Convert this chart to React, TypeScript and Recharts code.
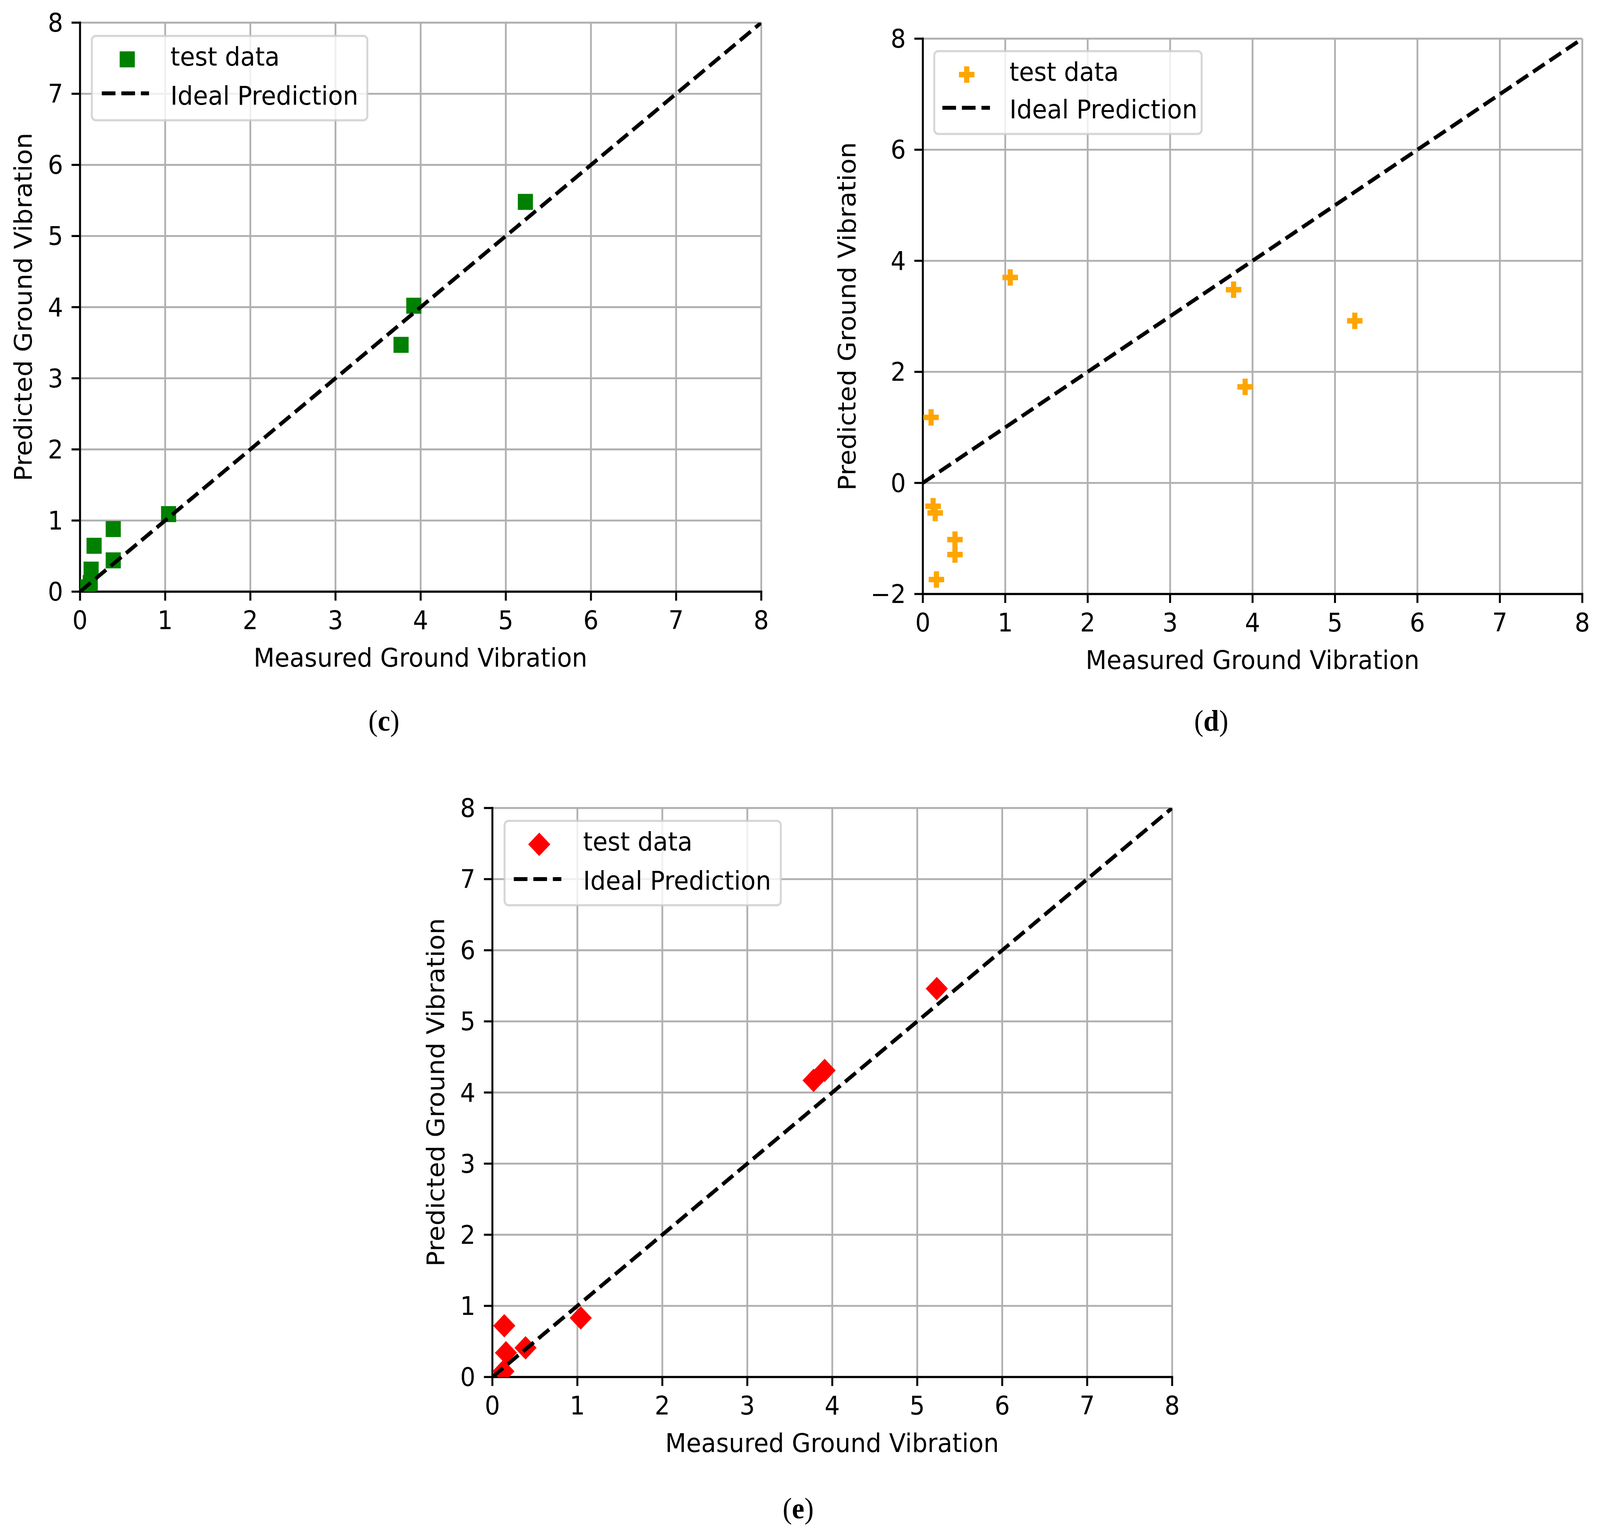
import { CartesianGrid, Scatter, ScatterChart, XAxis, YAxis } from "recharts";

// panel (c): green squares
const measuredC = [0.09, 0.12, 0.13, 0.165, 0.39, 0.39, 1.04, 3.77, 3.92, 5.23];
const predictedC = [0.06, 0.12, 0.31, 0.645, 0.44, 0.88, 1.09, 3.47, 4.02, 5.48];

// panel (d): orange filled plus
const measuredD = [0.1, 0.125, 0.15, 0.165, 0.39, 0.39, 1.06, 3.77, 3.91, 5.24];
const predictedD = [1.18, -0.42, -0.54, -1.74, -1.02, -1.29, 3.7, 3.48, 1.73, 2.92];

// panel (e): red diamonds
const measuredE = [0.13, 0.14, 0.16, 0.39, 1.04, 3.78, 3.91, 5.23];
const predictedE = [0.08, 0.72, 0.34, 0.41, 0.83, 4.17, 4.31, 5.46];

const idealEnds = [0, 8];
const xTicks = [0, 1, 2, 3, 4, 5, 6, 7, 8];
const yTicksC = [0, 1, 2, 3, 4, 5, 6, 7, 8];
const yTicksD = [-2, 0, 2, 4, 6, 8];

const xLabel = "Measured Ground Vibration";
const yLabel = "Predicted Ground Vibration";
const seriesLabel = "test data";
const idealLabel = "Ideal Prediction";

const FONT = "'DejaVu Sans', sans-serif";
const FS = 66;
const TICK_FS = 65;
const SPINE = 5.3;
const PAGE_W = 4338;
const PAGE_H = 3928;

const toPoints = (xs: number[], ys: number[]) => xs.map((x, i) => ({ x, y: ys[i] }));
const idealPoints = idealEnds.map((v) => ({ x: v, y: v }));
const fmt = (v: number) => (v < 0 ? `\u2212${-v}` : `${v}`);

const Square = ({ cx, cy }: any) => (
  <rect x={cx - 20.5} y={cy - 20.5} width={41} height={41} fill="#008000" />
);
const Plus = ({ cx, cy }: any) => {
  const a = 21;
  const b = 7;
  const pts = [
    [-b, -a], [b, -a], [b, -b], [a, -b], [a, b], [b, b],
    [b, a], [-b, a], [-b, b], [-a, b], [-a, -b], [-b, -b],
  ]
    .map(([px, py]) => `${cx + px},${cy + py}`)
    .join(" ");
  return <polygon points={pts} fill="#FFA500" />;
};
const Diamond = ({ cx, cy }: any) => {
  const r = 30;
  return (
    <polygon
      points={`${cx},${cy - r} ${cx + r},${cy} ${cx},${cy + r} ${cx - r},${cy}`}
      fill="#FF0000"
    />
  );
};
const Nothing = () => <g />;

type PanelProps = {
  left: number;
  top: number;
  width: number;
  height: number;
  margin: { top: number; right: number; bottom: number; left: number };
  yAxisWidth: number;
  xAxisHeight: number;
  yDomain: [number, number];
  yTicks: number[];
  data: { x: number; y: number }[];
  shape: any;
};

function Panel(p: PanelProps) {
  const tick = { fontSize: TICK_FS, fontFamily: FONT, fill: "#000" };
  const axisLine = { stroke: "#000", strokeWidth: SPINE, strokeLinecap: "square" as const };
  const tickLine = { stroke: "#000", strokeWidth: SPINE };
  return (
    <div style={{ position: "absolute", left: p.left, top: p.top }}>
      <ScatterChart width={p.width} height={p.height} margin={p.margin}>
        <CartesianGrid stroke="#b0b0b0" strokeWidth={4.8} />
        <XAxis
          type="number"
          dataKey="x"
          domain={[0, 8]}
          ticks={xTicks}
          interval={0}
          allowDataOverflow
          height={p.xAxisHeight}
          tick={tick}
          tickSize={23}
          tickMargin={27}
          tickLine={tickLine}
          axisLine={axisLine}
        />
        <YAxis
          type="number"
          dataKey="y"
          domain={p.yDomain}
          ticks={p.yTicks}
          interval={0}
          allowDataOverflow
          width={p.yAxisWidth}
          tick={tick}
          tickSize={23}
          tickMargin={23}
          tickFormatter={fmt}
          tickLine={tickLine}
          axisLine={axisLine}
        />
        <XAxis
          xAxisId="top"
          orientation="top"
          type="number"
          domain={[0, 8]}
          ticks={[]}
          tick={false}
          tickLine={false}
          height={0}
          axisLine={axisLine}
        />
        <YAxis
          yAxisId="right"
          orientation="right"
          type="number"
          domain={p.yDomain}
          ticks={[]}
          tick={false}
          tickLine={false}
          width={0}
          axisLine={axisLine}
        />
        <Scatter data={p.data} shape={p.shape} isAnimationActive={false} />
        <Scatter
          data={idealPoints}
          shape={Nothing}
          line={{ stroke: "#000", strokeWidth: 10, strokeDasharray: "37 16" }}
          isAnimationActive={false}
        />
      </ScatterChart>
    </div>
  );
}

type LegendProps = {
  x: number;
  y: number;
  w: number;
  h: number;
  markerX: number;
  line: [number, number];
  lineY: number;
  textX: number;
  base2: number;
  marker: (p: { cx: number; cy: number }) => any;
};

function LegendBox(l: LegendProps) {
  const M = l.marker;
  return (
    <g>
      <rect
        x={l.x}
        y={l.y}
        width={l.w}
        height={l.h}
        rx={11}
        fill="#fff"
        fillOpacity={0.8}
        stroke="#cccccc"
        strokeOpacity={0.8}
        strokeWidth={5.3}
      />
      <M cx={l.x + l.markerX} cy={l.y + 60} />
      <line
        x1={l.x + l.line[0]}
        x2={l.x + l.line[1]}
        y1={l.y + l.lineY}
        y2={l.y + l.lineY}
        stroke="#000"
        strokeWidth={10}
        strokeDasharray="37 16"
      />
      <text x={l.x + l.textX} y={l.y + 76} fontSize={FS} fontFamily={FONT} fill="#000">
        {seriesLabel}
      </text>
      <text x={l.x + l.textX} y={l.y + l.base2} fontSize={FS} fontFamily={FONT} fill="#000">
        {idealLabel}
      </text>
    </g>
  );
}

function Caption({ x, y, letter }: { x: number; y: number; letter: string }) {
  return (
    <text x={x} y={y} textAnchor="middle" fontSize={76} fontFamily="'Liberation Serif', serif" fill="#000">
      <tspan>(</tspan>
      <tspan fontWeight="bold">{letter}</tspan>
      <tspan>)</tspan>
    </text>
  );
}

function AxisLabels({ xx, xy, yx, yy }: { xx: number; xy: number; yx: number; yy: number }) {
  return (
    <g fontSize={FS} fontFamily={FONT} fill="#000">
      <text x={xx} y={xy} textAnchor="middle">
        {xLabel}
      </text>
      <text transform={`translate(${yx},${yy}) rotate(-90)`} textAnchor="middle">
        {yLabel}
      </text>
    </g>
  );
}

export default function App() {
  // the window may be narrower than the figure (browser caps the width), so squeeze to fit
  const vw = typeof window !== "undefined" ? window.innerWidth : PAGE_W;
  const sx = Math.min(1, vw / PAGE_W);
  return (
    <div
      style={{
        position: "absolute",
        left: 0,
        top: 0,
        width: PAGE_W,
        height: PAGE_H,
        background: "#fff",
        overflow: "hidden",
        transform: `scale(${sx}, 1)`,
        transformOrigin: "0 0",
      }}
    >
      <Panel
        left={0}
        top={0}
        width={2120}
        height={1640}
        margin={{ top: 58, right: 56, bottom: 0, left: 0 }}
        yAxisWidth={217}
        xAxisHeight={125}
        yDomain={[0, 8]}
        yTicks={yTicksC}
        data={toPoints(measuredC, predictedC)}
        shape={Square}
      />
      <Panel
        left={2169}
        top={0}
        width={2169}
        height={1640}
        margin={{ top: 99, right: 48, bottom: 0, left: 0 }}
        yAxisWidth={333}
        xAxisHeight={119}
        yDomain={[-2, 8]}
        yTicks={yTicksD}
        data={toPoints(measuredD, predictedD)}
        shape={Plus}
      />
      <Panel
        left={1000}
        top={1990}
        width={2300}
        height={1700}
        margin={{ top: 79, right: 122, bottom: 0, left: 0 }}
        yAxisWidth={335}
        xAxisHeight={164}
        yDomain={[0, 8]}
        yTicks={yTicksC}
        data={toPoints(measuredE, predictedE)}
        shape={Diamond}
      />
      <svg
        width={PAGE_W}
        height={PAGE_H}
        style={{ position: "absolute", left: 0, top: 0, pointerEvents: "none" }}
      >
        <AxisLabels xx={1140} xy={1707} yx={86} yy={786} />
        <AxisLabels xx={3396} xy={1713} yx={2319} yy={810} />
        <AxisLabels xx={2256} xy={3718} yx={1204} yy={2797} />
        <LegendBox x={249} y={92} w={747} h={216} markerX={96} line={[27, 155]} lineY={147} textX={213} base2={176} marker={Square} />
        <LegendBox x={2533} y={131} w={725} h={212} markerX={88} line={[22, 151]} lineY={145} textX={204} base2={172} marker={Plus} />
        <LegendBox x={1368} y={2102} w={749} h={216} markerX={94} line={[25, 154]} lineY={149} textX={213} base2={176} marker={Diamond} />
        <Caption x={1041} y={1871} letter="c" />
        <Caption x={3284} y={1871} letter="d" />
        <Caption x={2164} y={3888} letter="e" />
      </svg>
    </div>
  );
}
